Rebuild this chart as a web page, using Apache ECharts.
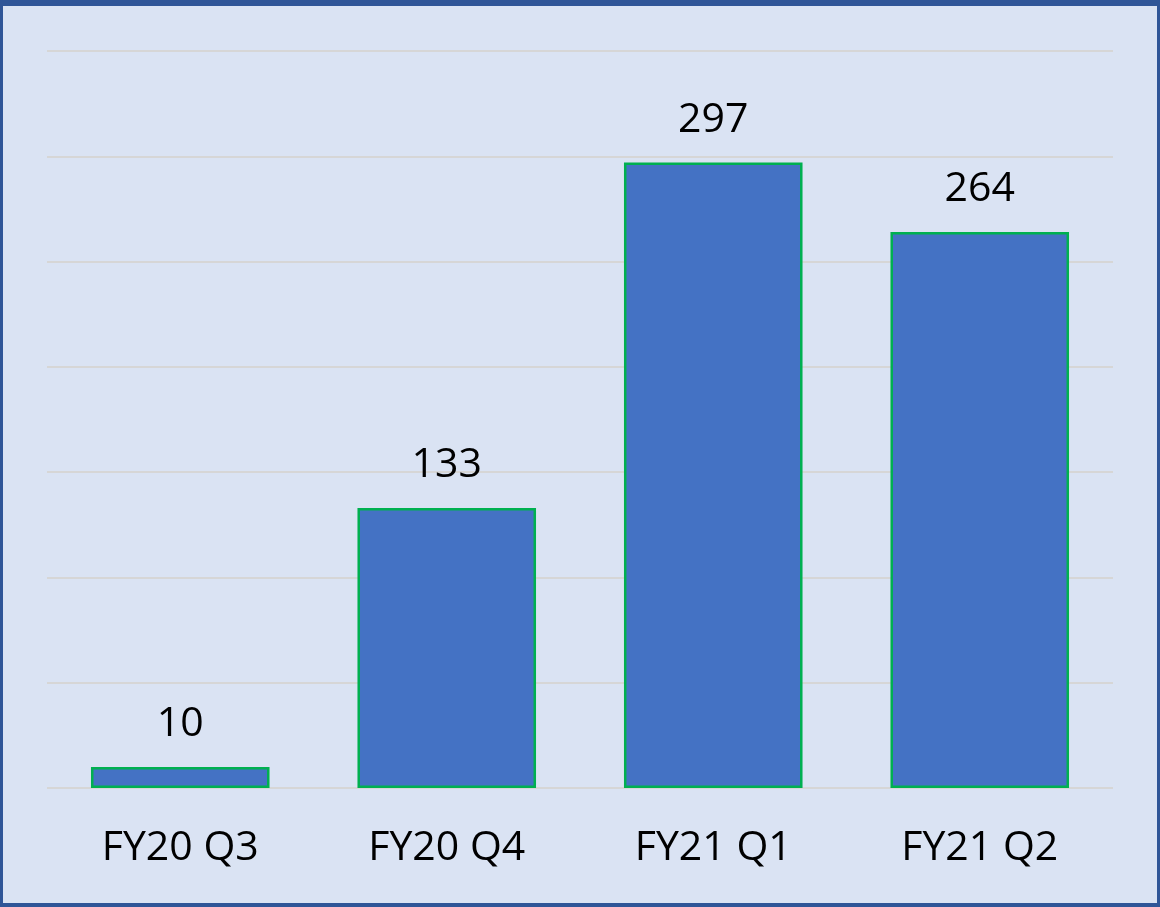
<!DOCTYPE html>
<html>
<head>
<meta charset="utf-8">
<script src="https://cdn.jsdelivr.net/npm/echarts@6/dist/echarts.min.js"></script>
<style>
html,body{margin:0;padding:0;background:#2F5597;}
#wrap{position:absolute;left:0;top:0;width:1160px;height:907px;background:#2F5597;}
#chart{position:absolute;left:3px;top:6px;width:1154px;height:897px;background:#DAE3F3;}
</style>
</head>
<body>
<div id="wrap"><div id="chart"></div></div>
<script>
const categories = ["FY20 Q3", "FY20 Q4", "FY21 Q1", "FY21 Q2"];
const values = [10, 133, 297, 264];
const yMin = 0, yMax = 350, yInterval = 50;

const chart = echarts.init(document.getElementById('chart'));
chart.setOption({
  animation: false,
  backgroundColor: '#DAE3F3',
  grid: {left: 44, right: 44, top: 45, bottom: 115, containLabel: false},
  xAxis: {
    type: 'category',
    data: categories,
    axisLine: {show: false},
    axisTick: {show: false},
    axisLabel: {color: '#000', fontSize: 41, fontFamily: 'Open Sans', margin: 40}
  },
  yAxis: {
    type: 'value',
    min: yMin, max: yMax, interval: yInterval,
    axisLabel: {show: false},
    axisLine: {show: false},
    axisTick: {show: false},
    splitLine: {lineStyle: {color: '#D6D6D6', width: 2}}
  },
  series: [{
    type: 'bar',
    data: values,
    barCategoryGap: '33%',
    itemStyle: {color: '#4472C4', borderColor: '#00B050', borderWidth: 2.5},
    label: {show: true, position: 'top', distance: 22, color: '#000', fontSize: 41, fontFamily: 'Open Sans'}
  }]
});
</script>
</body>
</html>
